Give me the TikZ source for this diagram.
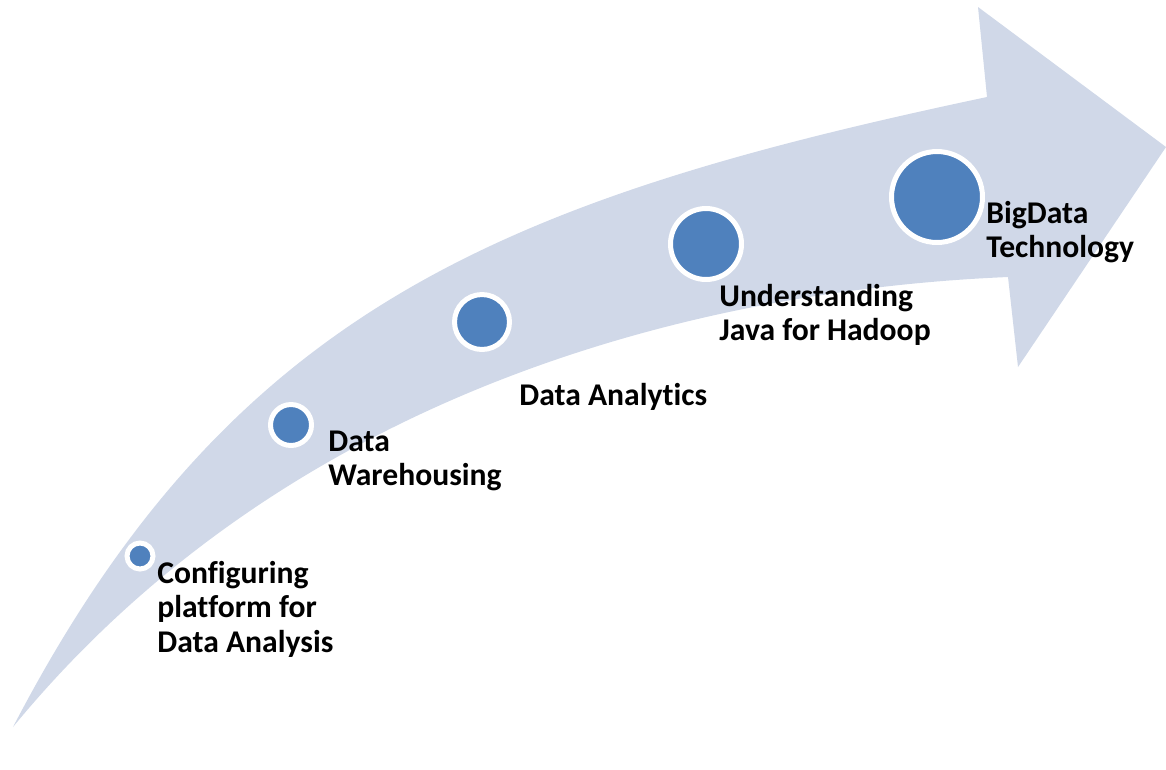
\documentclass[tikz,border=0pt]{standalone}
\usepackage{fontspec}
\setmainfont{Carlito}[Ligatures=CommonOff]
\usepackage{tikz}
\usetikzlibrary{positioning}
\definecolor{bandgray}{HTML}{D0D8E8}
\definecolor{dotblue}{HTML}{4F81BD}

\begin{document}
\begin{tikzpicture}[x=0.02cm, y=-0.02cm,
        dot/.style={circle, fill=dotblue, draw=white, line width=0.1cm, inner sep=0pt},
        stage/.style={anchor=west, align=left, inner sep=0pt, font=\fontsize{18}{19.6}\selectfont\bfseries}
    ]
        \useasboundingbox (0,0) rectangle (1166,769);

        % curved arrow
        \fill[bandgray] (13,727) .. controls (230,310) and (500,200) .. (987,97)
            -- (978,7) -- (1166,147) -- (1018,367) -- (1008,277)
            .. controls (700,290) and (290,390) .. (13,727) -- cycle;

        \node[dot, minimum size=0.52cm] (config) at (140,556) {};
        \node[dot, minimum size=0.82cm] (warehouse) at (291,425) {};
        \node[dot, minimum size=1.10cm] (analytics) at (482,322) {};
        \node[dot, minimum size=1.42cm] (java) at (706,244) {};
        \node[dot, minimum size=1.82cm] (bigdata) at (937,197) {};

        \node[stage] (configtext) at ([shift={(17,53)}]config.center) {Configuring\\platform for\\Data Analysis};
        \node[stage] (warehousetext) at ([shift={(37,36)}]warehouse.center) {Data\\Warehousing};
        \node[stage] (analyticstext) at ([shift={(37,75)}]analytics.center) {Data Analytics};
        \node[stage] (javatext) at ([shift={(13,71)}]java.center) {Understanding\\Java for Hadoop};
        \node[stage] (bigdatatext) at ([shift={(49,35)}]bigdata.center) {BigData\\Technology};
\end{tikzpicture}
\end{document}
